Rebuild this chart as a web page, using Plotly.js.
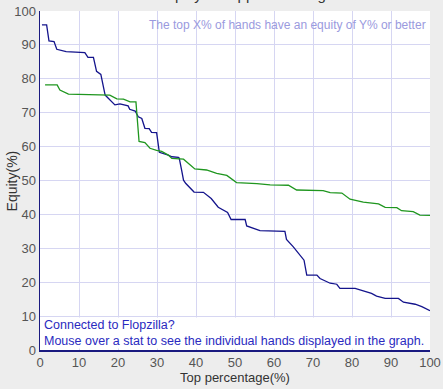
<!DOCTYPE html>
<html><head><meta charset="utf-8">
<script src="https://cdn.plot.ly/plotly-3.0.1.min.js"></script>
<style>html,body{margin:0;padding:0;background:#ededed;}#chart{width:443px;height:389px;}</style>
</head><body><div id="chart"></div>
<script>
// Blue series: top percentage (%) vs equity (%)
const blueX = [0.5,1.7,2.3,3.6,4.3,6.7,11.5,12.3,13.7,14.5,15.6,16.7,19.2,20.5,22.6,23.0,24.4,25.2,26.1,26.9,28.0,28.6,29.9,30.6,32.9,33.8,35.5,35.7,36.3,36.8,37.4,38.5,39.5,41.9,43.9,45.7,48.1,49.0,52.6,53.0,56.4,62.8,63.2,64.9,66.4,67.5,67.7,68.4,71.0,71.8,74.4,76.1,76.9,80.8,82.9,85.0,86.3,88.5,91.9,93.2,96.2,97.9,100];
const blueY = [95.9,95.9,91.2,91.0,88.7,88.0,87.7,86.3,86.3,82.2,81.3,75.2,72.3,72.6,72.0,71.0,70.5,68.8,68.3,65.4,65.3,64.2,64.1,58.3,57.5,57.0,56.8,56.6,53.1,50.1,49.1,47.7,46.6,46.5,44.7,42.1,40.6,38.5,38.5,36.6,35.2,35.0,32.6,30.5,28.3,26.5,26.5,22.1,22.1,21.1,19.7,19.4,18.2,18.2,17.4,16.7,15.9,15.2,15.2,14.1,13.5,12.8,11.6];
// Green series
const greenX = [1.3,4.4,5.1,7.3,17.9,19.7,21.4,23.1,24.6,25.4,26.9,28.2,29.9,31.2,32.9,33.8,36.8,38.5,39.7,42.7,45.3,47.9,50.4,55.6,59.0,63.7,65.8,72.6,74.4,77.4,79.5,82.9,86.8,88.5,91.5,92.7,95.7,97.4,100];
const greenY = [78.2,78.2,76.7,75.5,75.2,74.1,74.0,73.2,73.2,61.5,61.2,59.5,58.9,58.6,57.5,56.5,56.3,54.6,53.4,53.1,52.1,51.5,49.4,49.1,48.7,48.6,47.2,47.0,46.4,46.3,44.5,43.6,43.1,42.1,42.0,41.1,40.8,39.8,39.7];
const xTicks = [0,10,20,30,40,50,60,70,80,90,100];
const yTicks = [0,10,20,30,40,50,60,70,80,90,100];

const data = [
  {x: blueX, y: blueY, type:'scatter', mode:'lines', line:{color:'#14148c', width:1.3}, hoverinfo:'skip'},
  {x: greenX, y: greenY, type:'scatter', mode:'lines', line:{color:'#1f961f', width:1.3}, hoverinfo:'skip'}
];
const fam = 'Liberation Sans, Arial, sans-serif';
const axisFont = {family:fam, size:13, color:'#555555'};
const layout = {
  width:443, height:389,
  margin:{l:40, r:13, t:11, b:39},
  paper_bgcolor:'#ededed', plot_bgcolor:'#ffffff',
  showlegend:false,
  xaxis:{range:[0,100], tickvals:xTicks, ticktext:xTicks.map(String), showgrid:true, gridcolor:'#d6d6f2', gridwidth:1,
         showline:true, linecolor:'#1a1a80', linewidth:1.5, zeroline:false, ticks:'', ticklen:0,
         tickfont:axisFont, fixedrange:true,
         title:{text:'Top percentage(%)', font:{family:fam, size:13, color:'#333333'}, standoff:4}},
  yaxis:{range:[0,100], tickvals:yTicks, ticktext:yTicks.map(String), showgrid:true, gridcolor:'#d6d6f2', gridwidth:1,
         showline:true, linecolor:'#1a1a80', linewidth:1.5, zeroline:false, ticks:'', ticklen:0,
         tickfont:axisFont, fixedrange:true},
  annotations:[
    {xref:'paper', yref:'paper', x:0.53, y:1, xanchor:'center', yanchor:'bottom', yshift:6, showarrow:false,
     text:'Equity vs. opponent range', font:{family:fam, size:15, color:'#333333'}},
    {xref:'paper', yref:'paper', x:-0.072, y:0.5, xanchor:'center', yanchor:'middle', textangle:-90, showarrow:false,
     text:'Equity(%)', font:{family:fam, size:14, color:'#333333'}},
    {xref:'paper', yref:'paper', x:0.995, y:0.985, xanchor:'right', yanchor:'top', showarrow:false,
     text:'The top X% of hands have an equity of Y% or better',
     font:{family:fam, size:12, color:'#9a9ade'}},
    {xref:'paper', yref:'paper', x:0.008, y:0.004, xanchor:'left', yanchor:'bottom', showarrow:false, align:'left',
     bgcolor:'#ffffff', borderpad:0,
     text:'Connected to Flopzilla?<br>Mouse over a stat to see the individual hands displayed in the graph.',
     font:{family:fam, size:12.5, color:'#2a2ac0'}}
  ]
};
Plotly.newPlot('chart', data, layout, {displayModeBar:false, staticPlot:true});
</script></body></html>
